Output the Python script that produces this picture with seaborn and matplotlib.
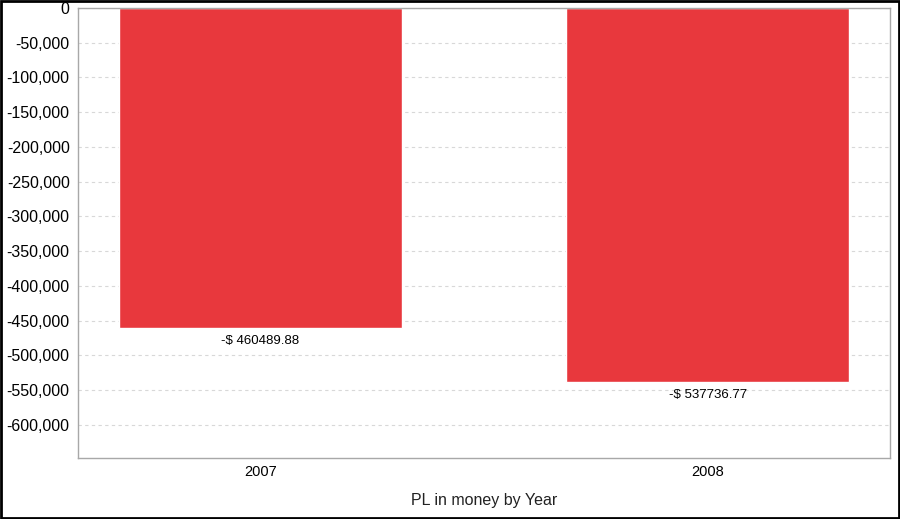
import matplotlib
matplotlib.use("Agg")
import matplotlib.pyplot as plt
import seaborn as sns
import pandas as pd
from matplotlib.ticker import FuncFormatter, MultipleLocator
from matplotlib.patches import Rectangle

years = ["2007", "2008"]
pl_values = [-460489.88, -537736.77]
bar_labels = ["-$ 460489.88", "-$ 537736.77"]

df = pd.DataFrame({"Year": years, "PL": pl_values})

sns.set_style("white")
plt.rcParams["font.family"] = ["Liberation Sans", "DejaVu Sans"]
plt.rcParams["text.color"] = "black"

fig = plt.figure(figsize=(9, 5.19), dpi=100)
ax = fig.add_axes([78 / 900, 1 - 458 / 519, 812 / 900, 450 / 519])

sns.barplot(data=df, x="Year", y="PL", color="#E8383D", width=0.633,
            saturation=1, ax=ax)

ax.set_xlim(-0.408, 1.408)
ax.set_ylim(-647500, 0)
ax.yaxis.set_major_locator(MultipleLocator(50000))
ax.yaxis.set_major_formatter(FuncFormatter(lambda v, p: f"{v:,.0f}"))
ax.grid(axis="y", color="#d8d8d8", linestyle=(0, (3, 3)), linewidth=0.8)
ax.set_axisbelow(True)

for s in ax.spines.values():
    s.set_color("#a8a8a8")
    s.set_linewidth(1)

ax.tick_params(axis="y", length=0, labelsize=11.5, pad=6, labelcolor="black")
ax.tick_params(axis="x", length=3, color="#a8a8a8", labelsize=10.5, pad=2,
               labelcolor="black")
ax.set_ylabel("")
ax.set_xlabel("PL in money by Year", fontsize=11.5, labelpad=10, color="#222222")

for i, (v, lab) in enumerate(zip(pl_values, bar_labels)):
    ax.annotate(lab, (i, v), xytext=(0, -5), textcoords="offset points",
                ha="center", va="top", fontsize=9.5, color="black")

fig.patches.append(Rectangle((0.001, 0.001), 0.998, 0.997, transform=fig.transFigure,
                             fill=False, edgecolor="black", linewidth=2))

fig.savefig("out.png", dpi=100)
